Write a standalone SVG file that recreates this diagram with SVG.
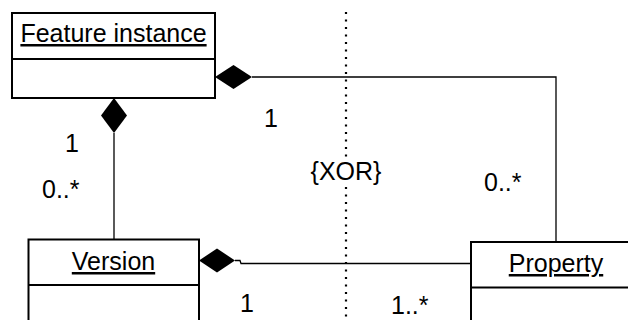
<svg xmlns="http://www.w3.org/2000/svg" width="628" height="320" viewBox="0 0 628 320">
<style>
.box{fill:#fff;stroke:#000;stroke-width:2}
.div{stroke:#000;stroke-width:2}
.name{font-family:"Liberation Sans",Arial,sans-serif;font-size:25px;fill:#000;text-anchor:middle;text-decoration:underline}
.lbl{font-family:"Liberation Sans",Arial,sans-serif;font-size:25px;fill:#000}
.conn{fill:none;stroke:#000;stroke-width:1.3}
.dia{fill:#000;stroke:none}
.dot{fill:none;stroke:#000;stroke-width:2.2;stroke-dasharray:2 5.5}
</style>
<rect width="628" height="320" fill="#fff"/>
<g id="connectors">
<path class="dot" d="M346,12 V157"/>
<path class="dot" d="M346,187 V320"/>
<path class="conn" d="M252,77 H556 V242"/>
<path class="conn" d="M114,133 V239"/>
<path class="conn" d="M235,260.5 H240 L241,263.5 H471"/>
<polygon class="dia" points="215,77 233.5,65 252,77 233.5,89"/>
<polygon class="dia" points="114,98 127,115.5 114,133 101,115.5"/>
<polygon class="dia" points="199,260.5 217,248.5 235,260.5 217,272.5"/>
<text class="lbl" x="264" y="127">1</text>
<text class="lbl" x="65" y="152">1</text>
<text class="lbl" x="42" y="198">0..*</text>
<text class="lbl" x="346" y="180" text-anchor="middle">{XOR}</text>
<text class="lbl" x="484" y="191">0..*</text>
<text class="lbl" x="240" y="312">1</text>
<text class="lbl" x="391" y="314">1..*</text>
</g>
<g id="feature-instance">
<rect class="box" x="12" y="13" width="203" height="85"/>
<line class="div" x1="12" y1="59" x2="215" y2="59"/>
<text class="name" x="113.5" y="42">Feature instance</text>
</g>
<g id="version">
<rect class="box" x="28.5" y="239.5" width="170.5" height="100"/>
<line class="div" x1="28.5" y1="285" x2="199" y2="285"/>
<text class="name" x="113.5" y="270">Version</text>
</g>
<g id="property">
<rect class="box" x="471" y="242" width="180" height="100"/>
<line class="div" x1="471" y1="287.5" x2="651" y2="287.5"/>
<text class="name" x="556" y="272">Property</text>
</g>
</svg>
